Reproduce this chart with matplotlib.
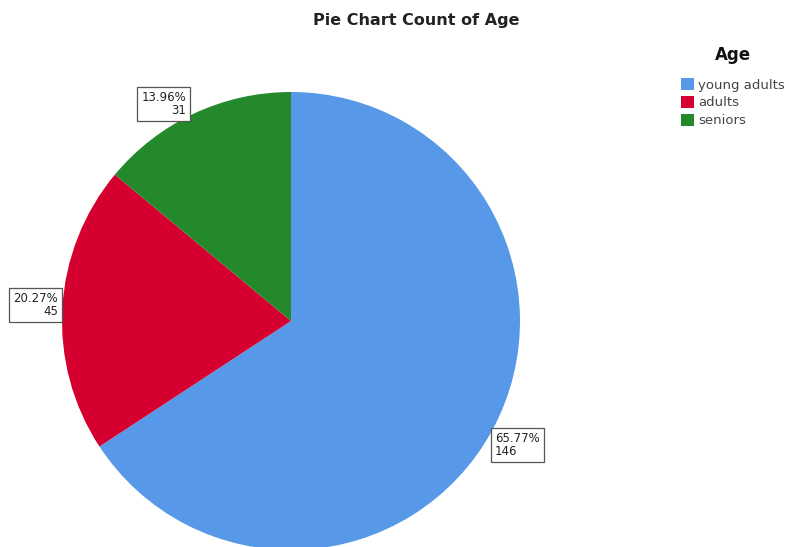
import matplotlib.pyplot as plt
from matplotlib.patches import Patch

# data
categories = ['young adults', 'adults', 'seniors']
counts = [146, 45, 31]
colors = ['#5799e8', '#d5002f', '#23892a']

total = sum(counts)
pcts = [100.0 * c / total for c in counts]

fig = plt.figure(figsize=(7.89, 5.47), dpi=100)
ax = fig.add_axes([0, 0, 1, 1])

ax.pie(counts, colors=colors, startangle=90, counterclock=False,
       center=(291, 226), radius=229, frame=True)
ax.set_xlim(0, 789)
ax.set_ylim(0, 547)
ax.set_aspect('equal')
ax.axis('off')

# label boxes: anchor x, y in pixel coords, alignment
label_pos = [(495, 102, 'left'), (58, 242, 'right'), (186, 443, 'right')]
box = dict(boxstyle='square,pad=0.35', facecolor='white', edgecolor='#555555', linewidth=0.9)
for (x, y, al), p, c in zip(label_pos, pcts, counts):
    ax.text(x, y, '%.2f%%\n%d' % (p, c), ha=al, ma=al, va='center',
            fontsize=8.5, color='#222222', linespacing=1.0, bbox=box)

fig.text(416 / 789, 1 - 20 / 547, 'Pie Chart Count of Age', ha='center', va='center',
         fontsize=11.5, fontweight='bold', color='#222222')

# legend
fig.text(733 / 789, 1 - 55 / 547, 'Age', ha='center', va='center',
         fontsize=12, fontweight='bold', color='#111111')
handles = [Patch(facecolor=col, edgecolor='none') for col in colors]
leg = fig.legend(handles, categories, loc='upper left',
                 bbox_to_anchor=(676 / 789, 1 - 73 / 547), frameon=False,
                 fontsize=9.5, handlelength=1.0, handleheight=1.0,
                 handletextpad=0.3, labelspacing=0.33, borderaxespad=0)
for t in leg.get_texts():
    t.set_color('#444444')

plt.savefig('out.png', dpi=100)
